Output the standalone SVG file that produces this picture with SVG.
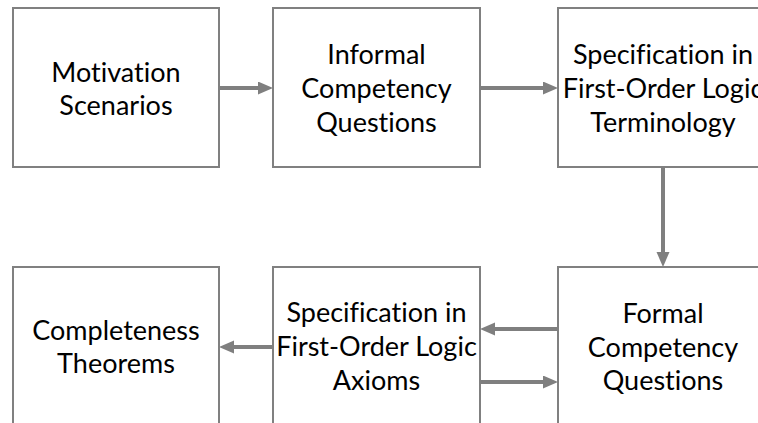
<svg xmlns="http://www.w3.org/2000/svg" width="758" height="423" viewBox="0 0 758 423">
  <style>
    .box { fill: #ffffff; stroke: #808080; stroke-width: 2; }
    .lbl { font-family: Lato, "Open Sans", "Liberation Sans", sans-serif; font-size: 27px; fill: #000000; text-anchor: middle; font-variant-ligatures: none; }
    .conn { stroke: #7f7f7f; stroke-width: 4; fill: none; marker-end: url(#head); }
  </style>
  <defs>
    <marker id="head" markerUnits="userSpaceOnUse" markerWidth="16" markerHeight="14" refX="0" refY="6.5" orient="auto">
      <path d="M0,0 L15,6.5 L0,13 Z" fill="#7f7f7f"/>
    </marker>
  </defs>
  <rect width="758" height="423" fill="#ffffff"/>

  <g id="motivation">
    <rect class="box" x="13" y="8" width="206" height="159"/>
    <text class="lbl" x="116" y="82">Motivation</text>
    <text class="lbl" x="116" y="115">Scenarios</text>
  </g>
  <g id="informal-cq">
    <rect class="box" x="273" y="8" width="207" height="159"/>
    <text class="lbl" x="376.5" y="64">Informal</text>
    <text class="lbl" x="376.5" y="98">Competency</text>
    <text class="lbl" x="376.5" y="132">Questions</text>
  </g>
  <g id="fol-terminology">
    <rect class="box" x="558" y="8" width="210" height="159"/>
    <text class="lbl" x="663" y="64">Specification in</text>
    <text class="lbl" x="663" y="98">First-Order Logic</text>
    <text class="lbl" x="663" y="132">Terminology</text>
  </g>
  <g id="completeness">
    <rect class="box" x="13" y="267" width="206" height="170"/>
    <text class="lbl" x="116" y="340">Completeness</text>
    <text class="lbl" x="116" y="373">Theorems</text>
  </g>
  <g id="fol-axioms">
    <rect class="box" x="273" y="267" width="207" height="170"/>
    <text class="lbl" x="376.5" y="322">Specification in</text>
    <text class="lbl" x="376.5" y="356">First-Order Logic</text>
    <text class="lbl" x="376.5" y="390">Axioms</text>
  </g>
  <g id="formal-cq">
    <rect class="box" x="558" y="267" width="210" height="170"/>
    <text class="lbl" x="663" y="323">Formal</text>
    <text class="lbl" x="663" y="357">Competency</text>
    <text class="lbl" x="663" y="390">Questions</text>
  </g>

  <g id="connectors">
    <line class="conn" x1="219" y1="88" x2="258" y2="88"/>
    <line class="conn" x1="480" y1="88" x2="543" y2="88"/>
    <line class="conn" x1="663" y1="167" x2="663" y2="252"/>
    <line class="conn" x1="558" y1="329" x2="495" y2="329"/>
    <line class="conn" x1="480" y1="382" x2="543" y2="382"/>
    <line class="conn" x1="273" y1="347" x2="234" y2="347"/>
  </g>
</svg>
